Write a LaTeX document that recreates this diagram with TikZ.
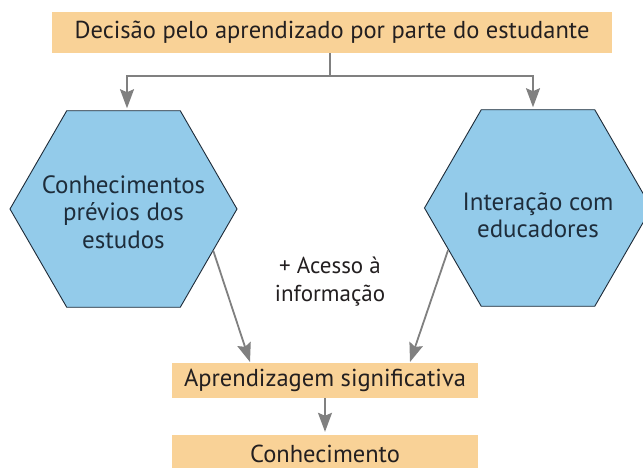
\documentclass[tikz,border=0pt]{standalone}
\usepackage{fontspec}
\setmainfont{PT Sans}
\usetikzlibrary{shapes.geometric,arrows.meta}
\definecolor{boxfill}{HTML}{F9D297}
\definecolor{hexfill}{HTML}{93CBEA}
\definecolor{hexline}{HTML}{1E2B38}
\definecolor{txt}{HTML}{231F20}
\definecolor{hextxt}{HTML}{1E2D3B}
\definecolor{arr}{HTML}{808080}
\tikzset{
  obox/.style={rectangle, fill=boxfill, draw=none, inner sep=0pt, text=txt, font=\fontsize{24.5}{28}\selectfont},
  hexa/.style={regular polygon, regular polygon sides=6, minimum size=227pt, inner sep=0pt, fill=hexfill, draw=hexline, line width=0.9pt},
  hextext/.style={align=center, text=hextxt, font=\fontsize{25}{27.5}\selectfont},
  conn/.style={draw=arr, line width=1.8pt, -{Stealth[length=19pt,width=14pt,inset=3pt]}},
  plain/.style={draw=arr, line width=1.8pt}
}
\begin{document}
\begin{tikzpicture}[x=1pt,y=-1pt]
\useasboundingbox (0,0) rectangle (643,468);
\fill[white] (0,0) rectangle (643,468);
\node[obox, minimum width=560pt, minimum height=41pt] (T) at (332,32.5) {Decisão pelo aprendizado por parte do estudante};
\node[hexa] (L) at (123.5,209) {};
\node[hextext] (Lt) at ([yshift=-3pt]L.center) {Conhecimentos\\prévios dos\\estudos};
\node[hexa] (R) at (538,208) {};
\node[hextext] (Rt) at ([yshift=-7pt]R.center) {Interação com\\educadores};
\node[align=center, text=txt, font=\fontsize{23}{28}\selectfont] (X) at (330,282) {+ Acesso à\\informação};
\node[obox, minimum width=306pt, minimum height=35pt] (A) at (325,380.5) {Aprendizagem significativa};
\node[obox, minimum width=306pt, minimum height=37pt] (K) at (325,453.5) {Conhecimento};
\coordinate (h) at (330,76);
\coordinate (a1) at (250,362);
\coordinate (a2) at (410,362);
\draw[plain] (T.south -| h) -- (h);
\draw[conn, shorten >=2pt] (h) -| ([xshift=3.5pt]L.north);
\draw[conn, shorten >=2pt] (h) -| ([xshift=-5pt]R.north);
\draw[conn] (L.-25) -- (a1);
\draw[conn] (R.205) -- (a2);
\draw[conn, shorten >=3pt] (A.south) -- (K.north);
\end{tikzpicture}
\end{document}
